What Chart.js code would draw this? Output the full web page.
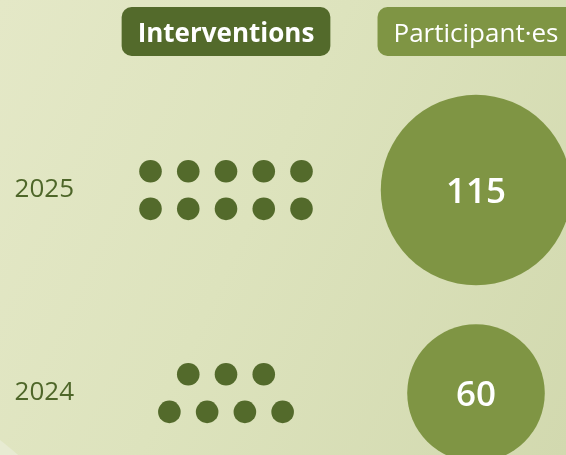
<!DOCTYPE html>
<html>
<head>
<meta charset="utf-8">
<script src="https://cdn.jsdelivr.net/npm/chart.js@4.4.1/dist/chart.umd.min.js"></script>
<style>
html,body{margin:0;padding:0;width:566px;height:455px;overflow:hidden;}
body{position:relative;background:#e9ecd6;font-family:"Open Sans",sans-serif;}
#card{position:absolute;left:0;top:0;width:566px;height:455px;background:linear-gradient(115deg,#e4e8c7 0%,#dde3bd 45%,#d2d9af 100%);}
#lite{position:absolute;left:-528px;top:372px;width:656px;height:656px;border-radius:50%;background:#e7ebd2;}
#wrap{position:absolute;left:0;top:0;width:566px;height:455px;}
</style>
</head>
<body>
<div id="card"></div>
<div id="lite"></div>
<div id="wrap"><canvas id="c" width="566" height="455"></canvas></div>
<script>
// ---- data ----
const categories = ['2025', '2024'];
const interventions = [10, 7];
const participants = [115, 60];
const columns = ['Interventions', 'Participant·es'];

// ---- styles / layout constants ----
const DARK = '#536a2b';
const MID = '#7f9544';
const TEXT_DARK = '#4e6629';
const DOT_DX = 0.151;   // horizontal spacing of dots (x units)
const DOT_DY = 0.0926;  // half vertical gap between dot rows (y units)
const R_K = 8.88;       // bubble radius = R_K * sqrt(value)

// unit dots built from the intervention counts
const dotPoints = [];
categories.forEach((c, i) => {
  const n = interventions[i];
  const topCount = Math.floor(n / 2);
  const bottomCount = n - topCount;
  [[topCount, -1], [bottomCount, 1]].forEach(([cnt, side]) => {
    for (let j = 0; j < cnt; j++) {
      dotPoints.push({ x: 1 + (j - (cnt - 1) / 2) * DOT_DX, y: i + side * DOT_DY });
    }
  });
});

const bubblePoints = categories.map((c, i) => ({ x: 2, y: i, r: R_K * Math.sqrt(participants[i]) }));

const overlay = {
  id: 'overlay',
  afterDatasetsDraw(chart) {
    const { ctx, scales: { x } } = chart;
    ctx.save();
    // bubble value labels
    const meta = chart.getDatasetMeta(1);
    ctx.fillStyle = '#ffffff';
    ctx.textAlign = 'center';
    ctx.textBaseline = 'alphabetic';
    ctx.font = '600 35px "Open Sans"';
    meta.data.forEach((el, i) => {
      ctx.fillText(String(participants[i]), el.x, el.y + 0.357 * 35);
    });
    // column headers
    const styles = [
      { font: '700 26px "Open Sans"', bg: DARK },
      { font: '400 26px "Open Sans"', bg: MID }
    ];
    columns.forEach((label, i) => {
      const cx = x.getPixelForValue(i + 1);
      ctx.font = styles[i].font;
      const w = ctx.measureText(label).width + 32;
      const top = chart.chartArea.top + 7;
      const h = 49;
      ctx.fillStyle = styles[i].bg;
      ctx.beginPath();
      ctx.roundRect(cx - w / 2, top, w, h, 10);
      ctx.fill();
      ctx.fillStyle = '#ffffff';
      ctx.textAlign = 'center';
      ctx.fillText(label, cx, top + h / 2 + 0.357 * 26 + 1);
    });
    ctx.restore();
  }
};

function draw() {
  new Chart(document.getElementById('c'), {
    data: {
      datasets: [
        {
          type: 'scatter',
          label: columns[0],
          data: dotPoints,
          pointRadius: 11.3,
          pointHoverRadius: 11.3,
          backgroundColor: DARK,
          borderWidth: 0,
          clip: false
        },
        {
          type: 'bubble',
          label: columns[1],
          data: bubblePoints,
          backgroundColor: MID,
          borderWidth: 0,
          clip: false
        }
      ]
    },
    options: {
      responsive: false,
      animation: false,
      events: [],
      layout: { padding: 0, autoPadding: false },
      plugins: { legend: { display: false }, tooltip: { enabled: false } },
      scales: {
        x: { type: 'linear', min: 0.448, max: 2.36, display: false },
        y: {
          type: 'linear',
          reverse: true,
          min: -0.936,
          max: 1.305,
          position: 'left',
          grid: { display: false, drawTicks: false },
          border: { display: false },
          afterBuildTicks: s => { s.ticks = categories.map((c, i) => ({ value: i })); },
          afterFit: s => { s.width = 88; s.paddingTop = 0; s.paddingBottom = 0; },
          ticks: {
            callback: v => categories[v],
            color: TEXT_DARK,
            font: { family: '"Open Sans"', size: 26, weight: '400' },
            padding: 14,
            crossAlign: 'near'
          }
        }
      }
    },
    plugins: [overlay]
  });
}

Promise.all([
  document.fonts.load('400 26px "Open Sans"'),
  document.fonts.load('700 26px "Open Sans"'),
  document.fonts.load('600 35px "Open Sans"')
]).then(draw, draw);
</script>
</body>
</html>
